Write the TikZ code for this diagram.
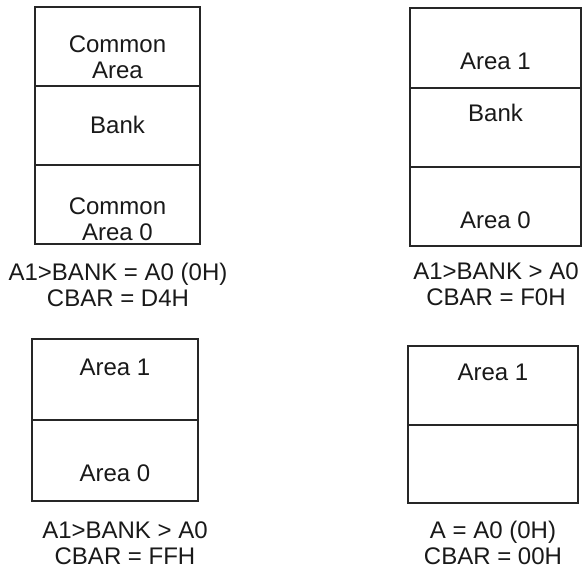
\documentclass[tikz,border=0pt]{standalone}
\usepackage{fontspec}
\setmainfont{Liberation Sans}
\begin{document}
\begin{tikzpicture}[x=0.5pt,y=-0.5pt,
  frame/.style={line width=0.9pt,black!85},
  txt/.style={inner sep=0pt,align=center,font=\fontsize{12}{13}\selectfont,text=black!90}]
\useasboundingbox (0,0) rectangle (583,571);
% top left: common area / bank / common area 0
\draw[frame] (35,7) rectangle (200,244);
\draw[frame] (35,86) -- (200,86);
\draw[frame] (35,165) -- (200,165);
\node[txt] (ca) at (117.5,57) {Common\\Area};
\node[txt] (cb) at (117.5,125) {Bank};
\node[txt] (c0) at (117.5,219) {Common\\Area 0};
\node[txt] (l1) at (118,284.5) {A1>BANK = A0 (0H)\\CBAR = D4H};
% top right: area 1 / bank / area 0
\draw[frame] (410,8) rectangle (581,246);
\draw[frame] (410,88) -- (581,88);
\draw[frame] (410,167) -- (581,167);
\node[txt] (ra1) at (495.5,61) {Area 1};
\node[txt] (rb) at (495.5,113) {Bank};
\node[txt] (ra0) at (495.5,220) {Area 0};
\node[txt] (l2) at (496,284.5) {A1>BANK > A0\\CBAR = F0H};
% bottom left: area 1 / area 0
\draw[frame] (32,339) rectangle (198,501);
\draw[frame] (32,420) -- (198,420);
\node[txt] (ba1) at (115,367) {Area 1};
\node[txt] (ba0) at (115,473) {Area 0};
\node[txt] (l3) at (125,543) {A1>BANK > A0\\CBAR = FFH};
% bottom right: area 1 / empty
\draw[frame] (408,346) rectangle (578,503);
\draw[frame] (408,425) -- (578,425);
\node[txt] (da1) at (493,372) {Area 1};
\node[txt] (l4) at (493,543) {A = A0 (0H)\\CBAR = 00H};
\end{tikzpicture}
\end{document}
